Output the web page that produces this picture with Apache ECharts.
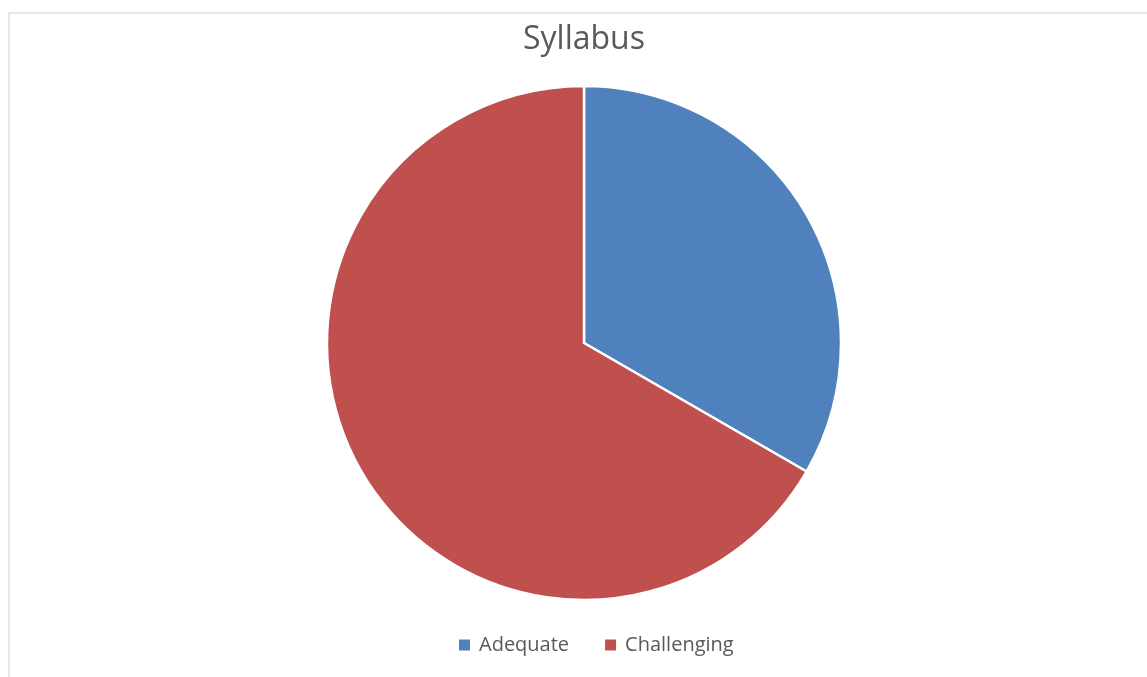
<!DOCTYPE html>
<html><head><meta charset="utf-8">
<script src="https://cdn.jsdelivr.net/npm/echarts@6/dist/echarts.min.js"></script>
<style>
html,body{margin:0;padding:0;background:#fff;overflow:hidden;}
#frame{position:absolute;left:8px;top:12px;width:1200px;height:700px;border-left:2px solid #e6e6e6;border-top:2px solid #e6e6e6;}
#c{position:absolute;left:0;top:0;width:1147px;height:677px;}
</style></head>
<body>
<div id="frame"></div>
<div id="c"></div>
<script>
const categories = ['Adequate', 'Challenging'];
const values = [1, 2];
const colors = ['#4F81BD', '#C0504D'];

const chart = echarts.init(document.getElementById('c'), null, {renderer: 'canvas'});
chart.setOption({
  animation: false,
  backgroundColor: 'transparent',
  title: {
    text: 'Syllabus', left: 518, top: 19,
    textStyle: {fontFamily: 'Open Sans', fontSize: 32, fontWeight: 'normal', color: '#595959'}
  },
  legend: {
    data: categories, top: 635, left: 457, padding: 0,
    itemWidth: 13, itemHeight: 13, itemGap: 34, icon: 'rect',
    textStyle: {fontFamily: 'Open Sans', fontSize: 20, color: '#595959', padding: [0, 0, 0, 3]}
  },
  color: colors,
  series: [{
    type: 'pie',
    center: [584, 343],
    radius: [0, 257],
    startAngle: 90,
    clockwise: true,
    label: {show: false},
    labelLine: {show: false},
    itemStyle: {borderColor: '#fff', borderWidth: 2.5},
    emphasis: {disabled: true},
    data: categories.map((n, i) => ({name: n, value: values[i]}))
  }]
});
</script>
</body></html>
